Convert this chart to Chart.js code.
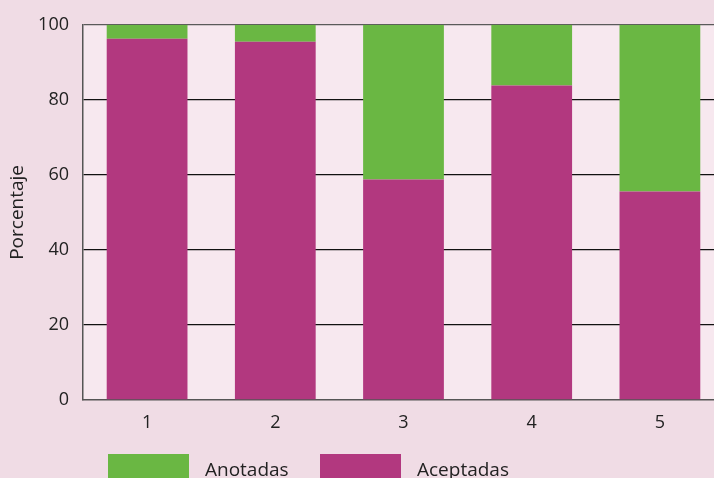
<!DOCTYPE html>
<html>
<head>
<meta charset="utf-8">
<script src="https://cdn.jsdelivr.net/npm/chart.js@4"></script>
<style>
    html, body { margin: 0; padding: 0; overflow: hidden; background: #f0dce5; }
    #wrap { width: 740px; height: 478px; }
</style>
</head>
<body>
<div id="wrap"><canvas id="chart"></canvas></div>
<script>
const categories = ["1", "2", "3", "4", "5"];
const aceptadas = [96.3, 95.5, 58.8, 83.8, 55.6];
const anotadas = [3.7, 4.5, 41.2, 16.2, 44.4];
const yTicks = [0, 20, 40, 60, 80, 100];

const FONT = "'Open Sans', 'Noto Sans', sans-serif";

// plot area fill
const plotBg = {
    id: 'plotBg',
    beforeDraw(chart) {
        const a = chart.chartArea;
        const ctx = chart.ctx;
        ctx.save();
        ctx.fillStyle = '#f7e8ef';
        ctx.fillRect(a.left, a.top, a.right - a.left, a.bottom - a.top);
        ctx.restore();
    }
};

// legend drawn under the axis, green first
const legendBoxes = {
    id: 'legendBoxes',
    afterDraw(chart) {
        const ctx = chart.ctx;
        const order = [1, 0];
        const xs = [108, 320];
        ctx.save();
        ctx.font = "19px " + FONT;
        ctx.textBaseline = 'alphabetic';
        order.forEach((di, i) => {
            const ds = chart.data.datasets[di];
            ctx.fillStyle = ds.backgroundColor;
            ctx.fillRect(xs[i], 454, 81, 30);
            ctx.fillStyle = '#222';
            ctx.fillText(ds.label, xs[i] + 97, 476);
        });
        ctx.restore();
    }
};

new Chart(document.getElementById('chart'), {
    type: 'bar',
    data: {
        labels: categories,
        datasets: [
            { label: 'Aceptadas', data: aceptadas, backgroundColor: '#b2387f' },
            { label: 'Anotadas', data: anotadas, backgroundColor: '#6ab743' }
        ]
    },
    options: {
        responsive: true,
        maintainAspectRatio: false,
        animation: false,
        layout: { padding: { left: 0, top: 24, right: 16, bottom: 0 } },
        datasets: { bar: { categoryPercentage: 1.0, barPercentage: 0.63 } },
        plugins: {
            legend: { display: false },
            tooltip: { enabled: false }
        },
        scales: {
            x: {
                stacked: true,
                grid: { display: false },
                border: { display: true, color: '#555', width: 1.5 },
                ticks: { color: '#222', font: { family: FONT, size: 18 }, padding: 4 },
                afterFit(scale) { scale.height = 78; }
            },
            y: {
                stacked: true,
                min: 0,
                max: 100,
                afterBuildTicks(scale) { scale.ticks = yTicks.map(v => ({ value: v })); },
                grid: {
                    drawTicks: false,
                    color: ctx => ctx.tick.value === 100 ? '#5a5a5a' : (ctx.tick.value === 0 ? 'rgba(0,0,0,0)' : '#111'),
                    lineWidth: 1.3
                },
                border: { display: true, color: '#555', width: 1.5 },
                ticks: { color: '#222', font: { family: FONT, size: 18 }, padding: 14 },
                title: {
                    display: true,
                    text: 'Porcentaje',
                    color: '#222',
                    font: { family: FONT, size: 19 },
                    padding: { top: 6, bottom: 0 }
                },
                afterFit(scale) { scale.width = 83; }
            }
        }
    },
    plugins: [plotBg, legendBoxes]
});
</script>
</body>
</html>
